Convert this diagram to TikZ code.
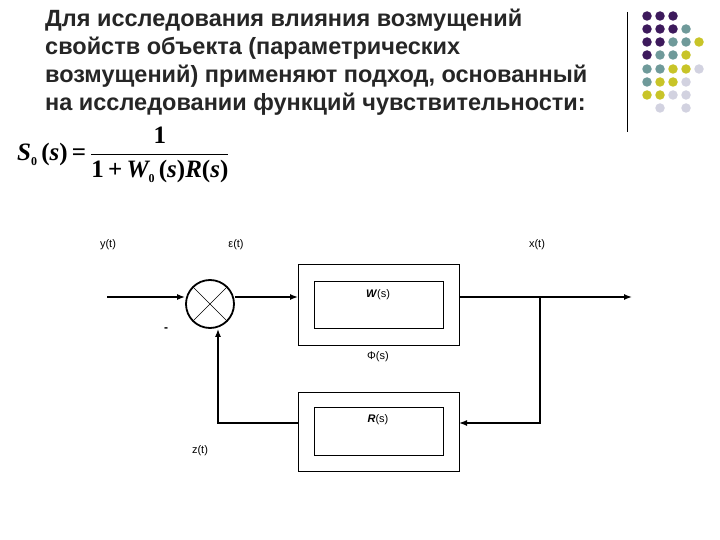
\documentclass[tikz,border=0pt]{standalone}
\usepackage{fontspec}
\setmainfont{Liberation Sans}
\newfontfamily\tnr{Liberation Serif}
\usetikzlibrary{arrows.meta}
\definecolor{cP}{HTML}{3D1A5C}
\definecolor{cT}{HTML}{6F9A9A}
\definecolor{cY}{HTML}{C8C428}
\definecolor{cL}{HTML}{D2D2E0}
\definecolor{cN}{HTML}{FFFFFF}
\newcommand{\bi}[1]{{\tnr\bfseries\itshape #1}}
\newcommand{\br}[1]{{\tnr\bfseries #1}}
\newcommand{\sub}[1]{\raisebox{-5pt}{\tnr\bfseries\fontsize{12}{12}\selectfont #1}}
\begin{document}
\begin{tikzpicture}[x=1pt,y=-1pt,
  box/.style={draw,line width=0.8pt},
  wire/.style={line width=1.4pt},
  arr/.style={wire,-{Latex[length=8pt,width=6pt]}},
  lbl/.style={font=\fontsize{11}{12}\selectfont,inner sep=0pt},
  dot/.style={circle,fill,inner sep=0pt,minimum size=9.5pt}]
\useasboundingbox (0,0) rectangle (720,540);
\node[anchor=north west,align=left,font=\bfseries\fontsize{23.5}{28}\selectfont,text=black!85,inner sep=0pt] (title) at (45,9)
 {Для исследования влияния возмущений\\свойств объекта (параметрических\\возмущений) применяют подход, основанный\\на исследовании функций чувствительности:};
\draw[line width=1pt] (627,12) -- (627,132);
% dots
\foreach \r/\row in {16/{P,P,P},29/{P,P,P,T},42/{P,P,T,T,Y},55/{P,T,T,Y},69/{T,T,Y,Y,L},82/{T,Y,Y,L},95/{Y,Y,L,L},108/{N,L,N,L}}{
  \foreach \c [count=\i from 0] in \row {
    \node[dot,fill=c\c] at (647+13*\i,\r) {};
  }}
\node[anchor=west,inner sep=0pt,font=\fontsize{25}{27}\selectfont] (formula) at (17,155)
 {\bi{S}\sub{0}\,\br{(}\bi{s}\br{)}\,\br{=}\,$\displaystyle\frac{\hbox{\br{1}}}{\hbox{\br{1}\,\br{+}\,\bi{W}\sub{0}\,\br{(}\bi{s}\br{)}\bi{R}\br{(}\bi{s}\br{)}}}$};
% blocks
\draw[box] (298,264) rectangle (459,345);
\node[box,minimum width=129pt,minimum height=47pt,anchor=north west] (W) at (314,281) {};
\node[lbl] (Wl) at (378,295) {\textbf{\textit{W}}(s)};
\draw[box] (298,392) rectangle (459,471);
\node[box,minimum width=129pt,minimum height=48pt,anchor=north west] (R) at (314,407) {};
\node[lbl] (Rl) at (378,420) {\textbf{\textit{R}}(s)};
\coordinate (Wout) at (459,297);
\coordinate (Rin) at (459,423);
\coordinate (Rout) at (298,423);
\node[draw,circle,line width=1.8pt,minimum size=48pt,inner sep=0pt,fill=white] (S) at (210,304) {};
\draw[line width=0.4pt] (S.north west) -- (S.south east) (S.north east) -- (S.south west);
\coordinate (in) at (107,297);
\coordinate (out) at (632,297);
\coordinate (br) at (540,297);
\draw[arr] (in) -- (in -| S.west);
\draw[arr] (S.east |- 0,297) -- (298,297);
\draw[wire] (Wout) -- (br);
\draw[arr] (br) -- (out);
\draw[arr] (br) |- (Rin);
\draw[arr] (Rout) -| (S.south -| 218,0);
\node[lbl] (y) at (108,245) {y(t)};
\node[lbl] (e) at (236,245) {ε(t)};
\node[lbl] (x) at (537,245) {x(t)};
\node[lbl] (F) at (378,357) {Φ(s)};
\node[lbl] (z) at (200,451) {z(t)};
\node[lbl,font=\bfseries\fontsize{12}{12}\selectfont] (m) at (166,330) {-};
\end{tikzpicture}
\end{document}
